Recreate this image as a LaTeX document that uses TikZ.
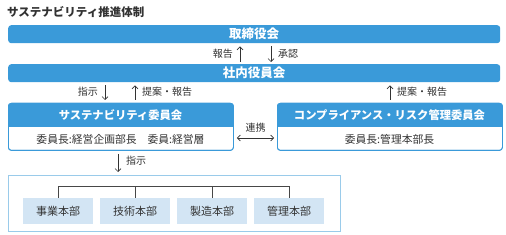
\documentclass[tikz,border=0pt]{standalone}
\usepackage{fontspec}
\setmainfont{Noto Sans CJK JP}
\usetikzlibrary{arrows.meta}
\definecolor{barblue}{HTML}{3A9AD9}
\definecolor{lightfill}{HTML}{D3E5F4}
\definecolor{boxline}{HTML}{9ACBEA}
\definecolor{txt}{HTML}{333333}
\begin{document}
\begin{tikzpicture}[x=1pt,y=-1pt,
  bar/.style={fill=barblue,rounded corners=3pt,text=white,inner sep=0pt,anchor=north west,
    minimum width=492pt,minimum height=18pt,font=\bfseries\fontsize{12.5}{13}\selectfont},
  panel/.style={draw=barblue,line width=0.8pt,rounded corners=3pt,anchor=north west,
    minimum width=225pt,minimum height=47pt,inner sep=0pt},
  headtxt/.style={text=white,font=\bfseries\fontsize{11.3}{12}\selectfont,inner sep=0pt},
  bodytxt/.style={text=txt,font=\fontsize{10.8}{11}\selectfont,inner sep=0pt},
  lbl/.style={text=txt,font=\fontsize{10}{11}\selectfont,inner sep=0pt},
  arr/.style={draw=txt,line width=0.7pt,-{Straight Barb[length=3pt,width=6pt]}},
  dept/.style={fill=lightfill,minimum width=70pt,minimum height=26pt,inner sep=0pt,
    text=txt,font=\fontsize{11}{11}\selectfont},
  tree/.style={draw=txt!90,line width=0.7pt}]
\useasboundingbox (0,0) rectangle (506,235);
\fill[white] (0,0) rectangle (506,235);
\node[anchor=west,inner sep=0pt,text=txt,font=\bfseries\fontsize{11.5}{12}\selectfont] (title) at (7,12) {サステナビリティ推進体制};
% top bars
\node[bar] (board) at (8,25) {取締役会};
\node[bar] (exec) at (8,64) {社内役員会};
% arrows between bars
\coordinate (c1) at (240,0);
\coordinate (c2) at (271,0);
\draw[arr] ([yshift=2pt]exec.north -| c1) -- ([yshift=-3pt]board.south -| c1);
\draw[arr] ([yshift=-3pt]board.south -| c2) -- ([yshift=2pt]exec.north -| c2);
\node[lbl,anchor=east] (l1) at (233,54) {報告};
\node[lbl,anchor=west] (l2) at (278,54) {承認};
% committees
\node[panel] (sc) at (8,103) {};
\fill[barblue,rounded corners=3pt] (sc.north west) rectangle ([yshift=-24pt]sc.north east);
\fill[barblue] ([yshift=-14pt]sc.north west) rectangle ([yshift=-24pt]sc.north east);
\node[panel] (sc) at (8,103) {};
\node[headtxt] (sch) at (120.5,115) {サステナビリティ委員会};
\node[bodytxt] (scb) at (120.5,139) {委員長:経営企画部長\hspace{1em}委員:経営層};
\node[panel] (cr) at (277,103) {};
\fill[barblue,rounded corners=3pt] (cr.north west) rectangle ([yshift=-24pt]cr.north east);
\fill[barblue] ([yshift=-14pt]cr.north west) rectangle ([yshift=-24pt]cr.north east);
\node[panel] (cr) at (277,103) {};
\node[headtxt] (crh) at (389.5,115) {コンプライアンス・リスク管理委員会};
\node[bodytxt] (crb) at (389.5,139) {委員長:管理本部長};
% arrows exec -> committees
\coordinate (c3) at (105,0);
\coordinate (c4) at (135,0);
\coordinate (c5) at (390,0);
\draw[arr] ([yshift=-3pt]exec.south -| c3) -- ([yshift=3pt]sc.north -| c3);
\draw[arr] ([yshift=3pt]sc.north -| c4) -- ([yshift=-3pt]exec.south -| c4);
\draw[arr] ([yshift=3pt]cr.north -| c5) -- ([yshift=-3pt]exec.south -| c5);
\node[lbl,anchor=east] (l3) at (98,92) {指示};
\node[lbl,anchor=west] (l4) at (142,92) {提案・報告};
\node[lbl,anchor=west] (l5) at (397,92) {提案・報告};
% link
\coordinate (c6) at (0,138);
\draw[arr,{Straight Barb[length=3pt,width=6pt]}-{Straight Barb[length=3pt,width=6pt]}] ([xshift=3pt]sc.east |- c6) -- ([xshift=-3pt]cr.west |- c6);
\node[lbl] (l6) at (255.5,128) {連携};
% bottom group
\node[draw=boxline,line width=0.8pt,anchor=north west,minimum width=332pt,minimum height=56pt,inner sep=0pt] (grp) at (8,175) {};
\coordinate (c7) at (118,0);
\draw[arr] ([yshift=-3pt]sc.south -| c7) -- ([yshift=3pt]grp.north -| c7);
\node[lbl,anchor=west] (l7) at (126,161) {指示};
\node[dept] (d1) at (58,211) {事業本部};
\node[dept] (d2) at (135,211) {技術本部};
\node[dept] (d3) at (212,211) {製造本部};
\node[dept] (d4) at (289,211) {管理本部};
\coordinate (bus) at (0,186);
\draw[tree] (d1.north) -- (d1.north |- bus) -- (d4.north |- bus) -- (d4.north);
\draw[tree] (d2.north) -- (d2.north |- bus);
\draw[tree] (d3.north) -- (d3.north |- bus);
\end{tikzpicture}
\end{document}
